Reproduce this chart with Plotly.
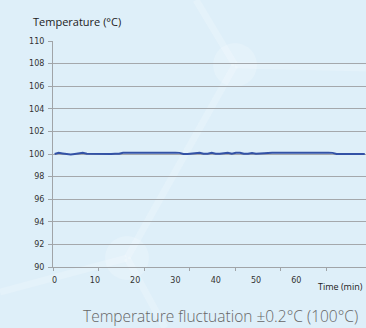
import plotly.graph_objects as go

# ---- data ----
time_min = list(range(0, 78))
temperature = [
    100.00, 100.10, 100.05, 100.00, 99.95, 100.00, 100.02, 100.10, 100.03, 100.02,
    100.02, 100.00, 100.00, 99.96, 100.00, 100.02, 100.02, 100.10, 100.12, 100.12,
    100.12, 100.12, 100.12, 100.12, 100.12, 100.18, 100.12, 100.12, 100.18, 100.12,
    100.12, 100.10, 100.00, 100.00, 100.02, 100.10, 100.10, 100.02, 100.02, 100.10,
    100.02, 100.02, 100.08, 100.10, 100.02, 100.10, 100.10, 100.02, 100.02, 100.08,
    100.02, 100.05, 100.12, 100.12, 100.12, 100.12, 100.12, 100.18, 100.12, 100.12,
    100.12, 100.18, 100.12, 100.12, 100.18, 100.12, 100.12, 100.12, 100.12, 100.10,
    100.00, 100.00, 100.00, 100.00, 100.00, 100.00, 100.00, 100.00,
]
x_tick_vals = [0, 10, 20, 30, 40, 50, 60]
x_tick_text = ["0", "10", "20", "30", "40", "50", "60"]
y_tick_vals = [90, 92, 94, 96, 98, 100, 102, 104, 106, 108, 110]
y_title = "Temperature (°C)"
x_title = "Time (min)"
caption = "Temperature fluctuation ±0.2°C (100°C)"

W, H = 366, 328
ML, MR, MT, MB = 53, 0, 41, 61
BG = "#deeff9"

def px(x, y):
    return (x - ML) / (W - ML - MR), (H - MB - y) / (H - MT - MB)

fig = go.Figure()
fig.add_trace(go.Scatter(
    x=time_min, y=temperature, mode="lines",
    line=dict(color="#3352a6", width=2), hoverinfo="skip", showlegend=False,
))

# faint decorative background shapes
deco = "rgba(255,255,255,0.18)"
shapes = []
def seg(x0, y0, x1, y1, w=7):
    a = px(x0, y0); b = px(x1, y1)
    shapes.append(dict(type="line", xref="paper", yref="paper", x0=a[0], y0=a[1], x1=b[0], y1=b[1],
                       line=dict(color=deco, width=w), layer="below"))
def circ(cx, cy, r):
    a = px(cx - r, cy - r); b = px(cx + r, cy + r)
    shapes.append(dict(type="circle", xref="paper", yref="paper", x0=a[0], y0=a[1], x1=b[0], y1=b[1],
                       fillcolor=deco, line=dict(width=0), layer="below"))
seg(196, 0, 235, 65)
seg(235, 65, 366, 68)
seg(235, 65, 127, 258)
seg(127, 258, 0, 292)
seg(127, 258, 165, 328)
circ(235, 65, 22)
circ(127, 258, 22)

fig.update_layout(
    width=W, height=H,
    margin=dict(l=ML, r=MR, t=MT, b=MB),
    paper_bgcolor=BG, plot_bgcolor="rgba(0,0,0,0)",
    shapes=shapes,
    showlegend=False,
    font=dict(family="DejaVu Sans", size=8, color="#333333"),
    xaxis=dict(
        range=[-0.4, 77.3], tickvals=x_tick_vals, ticktext=x_tick_text,
        ticks="", showgrid=False, zeroline=False, ticklabelstandoff=5,
        showline=True, linecolor="#a0a4a8", linewidth=1,
        minor=dict(tick0=-0.4, dtick=11.3, ticks="outside", ticklen=3, tickcolor="#a0a4a8", showgrid=False),
        tickfont=dict(size=8, color="#333333"),
    ),
    yaxis=dict(
        range=[90, 110], tickvals=y_tick_vals,
        ticks="outside", ticklen=4, tickcolor="#a0a4a8", ticklabelstandoff=2,
        showgrid=True, gridcolor="#a4a8ac", gridwidth=1.2,
        zeroline=False, showline=True, linecolor="#a0a4a8", linewidth=1,
        tickfont=dict(size=8, color="#333333"),
    ),
    annotations=[
        dict(text=y_title, xref="paper", yref="paper", x=px(31, 0)[0], y=px(0, 21)[1],
             xanchor="left", yanchor="middle", showarrow=False,
             font=dict(family="Open Sans", size=11, color="#222222")),
        dict(text=x_title, xref="paper", yref="paper", x=px(365, 0)[0], y=px(0, 286)[1],
             xanchor="right", yanchor="middle", showarrow=False,
             font=dict(family="Open Sans", size=9, color="#222222")),
        dict(text=caption, xref="paper", yref="paper", x=px(220, 0)[0], y=px(0, 316)[1],
             xanchor="center", yanchor="middle", showarrow=False,
             font=dict(family="Open Sans", size=15.5, color="#666666", weight=300)),
    ],
)

fig.write_html("out.html", config={"displayModeBar": False},
               post_script="document.body.style.margin='0';")
